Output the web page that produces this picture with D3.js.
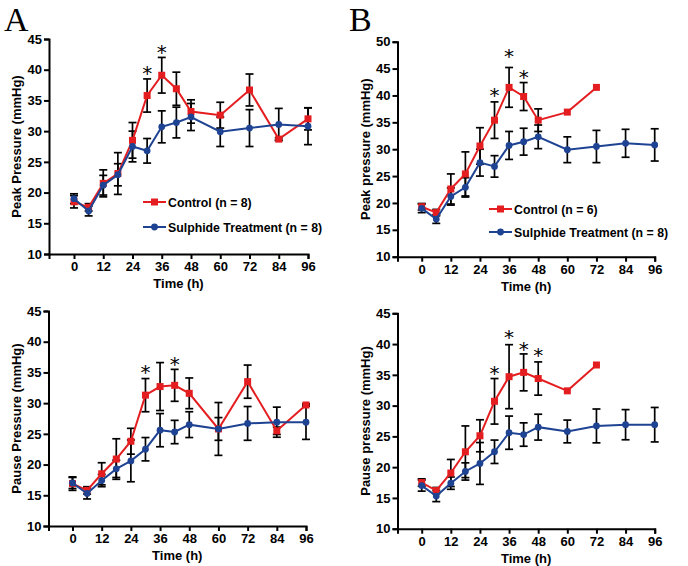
<!DOCTYPE html>
<html lang="en">
<head>
  <meta charset="UTF-8" />
  <title>Peak and pause pressure</title>
  <script src="https://cdn.jsdelivr.net/npm/d3@7"></script>
  <style>
    body { margin: 0; background: #fff; }
    text { font-family: "Liberation Sans", Arial, sans-serif; }
    .axis path, .axis line { stroke: #000; stroke-width: 2; }
    .axis text { font-size: 13px; font-weight: bold; fill: #000; }
  </style>
</head>
<body>
<script>
  // time points (h)
  var times = [0, 6, 12, 18, 24, 30, 36, 42, 48, 60, 72, 84, 96];
  var xTicks = [0, 12, 24, 36, 48, 60, 72, 84, 96];

  // A, peak pressure
  var controlPeakA = [18.5, 17.6, 21.5, 23.1, 28.5, 35.8, 39.1, 36.9, 33.2, 32.6, 36.7, 28.7, 32.0];
  var controlPeakAErr = [1.0, 0.6, 2.2, 3.4, 2.9, 2.7, 2.9, 2.7, 1.9, 2.1, 2.6, 0.2, 1.8];
  // B, peak pressure (control only to 72 h)
  var controlPeakB = [19.3, 18.2, 22.6, 25.4, 30.6, 35.4, 41.5, 39.8, 35.4, 36.9, 41.5];
  var controlPeakBErr = [0.6, 0.6, 2.8, 4.1, 3.4, 3.4, 3.7, 2.6, 2.1, 0, 0];
  // sulphide group, same in both panels
  var sulphidePeak = [19.0, 17.0, 21.2, 22.9, 27.5, 26.8, 30.7, 31.4, 32.3, 29.9, 30.5, 31.1, 30.8];
  var sulphidePeakErr = [0.8, 0.8, 1.6, 1.8, 2.5, 2.0, 2.6, 2.5, 2.2, 2.4, 3.0, 2.6, 3.0];

  // pause pressure
  var controlPauseA = [16.9, 15.8, 18.5, 20.9, 23.8, 31.3, 32.7, 32.9, 31.6, 25.8, 33.5, 25.5, 29.7];
  var controlPauseAErr = [1.1, 0.6, 1.8, 3.3, 2.1, 2.7, 3.9, 2.6, 2.5, 4.3, 2.7, 0.6, 0.2];
  var controlPauseB = [17.5, 16.2, 19.05, 22.5, 25.1, 30.7, 34.7, 35.4, 34.4, 32.4, 36.6];
  var controlPauseBErr = [0.6, 0.5, 2.2, 4.2, 2.6, 3.7, 5.2, 3.0, 2.7, 0, 0];
  var sulphidePause = [17.0, 15.3, 17.4, 19.3, 20.6, 22.5, 25.6, 25.3, 26.5, 25.8, 26.7, 26.9, 26.9];
  var sulphidePauseErr = [0.9, 0.9, 1.0, 1.4, 3.4, 1.9, 2.7, 1.9, 2.1, 1.85, 2.75, 2.45, 2.8];

  // significance stars: [time, level]
  var starsPeakA = [[30, 40.1], [36, 43.6]];
  var starsPeakB = [[30, 40.8], [36, 48.0], [42, 44.1]];
  var starsPauseA = [[30, 35.7], [42, 37.0]];
  var starsPauseB = [[30, 35.9], [36, 41.8], [42, 39.9], [48, 38.9]];

  var red = "#e41e20",
    blue = "#1f4393";

  var svg = d3.select("body").append("svg")
    .attr("width", 688)
    .attr("height", 566);

  var panels = [
    { left: 49, zero: 74, end: 308, top: 39, bottom: 254, ymax: 45,
      ylabel: "Peak Pressure (mmHg)", ctrl: controlPeakA, ctrlErr: controlPeakAErr,
      sul: sulphidePeak, sulErr: sulphidePeakErr, stars: starsPeakA,
      letter: "A", lx: 4, legend: { x: 143, y: 202, gap: 25, n: 8 } },
    { left: 397.5, zero: 421.7, end: 654.7, top: 41.7, bottom: 256.7, ymax: 50,
      ylabel: "Peak pressure (mmHg)", ctrl: controlPeakB, ctrlErr: controlPeakBErr,
      sul: sulphidePeak, sulErr: sulphidePeakErr, stars: starsPeakB,
      letter: "B", lx: 349, legend: { x: 489, y: 209, gap: 23, n: 6 } },
    { left: 48.5, zero: 72.5, end: 306, top: 311, bottom: 526, ymax: 45,
      ylabel: "Pause Pressure (mmHg)", ctrl: controlPauseA, ctrlErr: controlPauseAErr,
      sul: sulphidePause, sulErr: sulphidePauseErr, stars: starsPauseA },
    { left: 397.5, zero: 421.7, end: 654.7, top: 313.3, bottom: 528.7, ymax: 45,
      ylabel: "Pause pressure (mmHg)", ctrl: controlPauseB, ctrlErr: controlPauseBErr,
      sul: sulphidePause, sulErr: sulphidePauseErr, stars: starsPauseB }
  ];

  panels.forEach(function(p) {
    var g = svg.append("g");

    var base = d3.scaleLinear().domain([0, 96]).range([p.zero, p.end]);
    // extend the domain so the x axis starts at the y axis
    var xScale = d3.scaleLinear()
      .domain([base.invert(p.left), 96])
      .range([p.left, p.end]);

    var yScale = d3.scaleLinear()
      .domain([10, p.ymax])
      .range([p.bottom, p.top]);

    var xAxis = d3.axisBottom(xScale)
      .tickValues(xTicks)
      .tickSizeOuter(0)
      .tickSize(5)
      .tickPadding(3);

    var yAxis = d3.axisLeft(yScale)
      .tickValues(d3.range(10, p.ymax + 1, 5))
      .tickSizeOuter(0)
      .tickSize(5)
      .tickPadding(2);

    g.append("g")
      .attr("class", "axis")
      .attr("transform", "translate(0," + p.bottom + ")")
      .call(xAxis);

    g.append("g")
      .attr("class", "axis")
      .attr("transform", "translate(" + p.left + ",0)")
      .call(yAxis);

    g.append("text")
      .attr("x", (p.left + p.end) / 2)
      .attr("y", p.bottom + 34)
      .attr("text-anchor", "middle")
      .attr("font-size", 13)
      .attr("font-weight", "bold")
      .text("Time (h)");

    g.append("text")
      .attr("transform", "translate(" + (p.left - 28) + "," + ((p.top + p.bottom) / 2) + ") rotate(-90)")
      .attr("text-anchor", "middle")
      .attr("font-size", 13)
      .attr("font-weight", "bold")
      .text(p.ylabel);

    if (p.letter) {
      svg.append("text")
        .attr("x", p.lx)
        .attr("y", 31)
        .style("font-family", "'Liberation Serif', 'Times New Roman', serif")
        .attr("font-size", 34)
        .text(p.letter);
    }

    var series = [
      { vals: p.ctrl, err: p.ctrlErr, color: red, shape: "square" },
      { vals: p.sul, err: p.sulErr, color: blue, shape: "circle" }
    ];

    // error bars first
    series.forEach(function(s) {
      var pts = s.vals.map(function(v, i) { return { t: times[i], v: v, e: s.err[i] }; })
        .filter(function(d) { return d.e > 0; });
      var eb = g.append("g").attr("stroke", "#000").attr("stroke-width", 1.7).attr("fill", "none");
      eb.selectAll("line.v").data(pts).enter().append("line")
        .attr("x1", function(d) { return xScale(d.t); })
        .attr("x2", function(d) { return xScale(d.t); })
        .attr("y1", function(d) { return yScale(d.v + d.e); })
        .attr("y2", function(d) { return yScale(d.v - d.e); });
      [1, -1].forEach(function(sign) {
        eb.selectAll("line.c" + sign).data(pts).enter().append("line")
          .attr("x1", function(d) { return xScale(d.t) - 4; })
          .attr("x2", function(d) { return xScale(d.t) + 4; })
          .attr("y1", function(d) { return yScale(d.v + sign * d.e); })
          .attr("y2", function(d) { return yScale(d.v + sign * d.e); });
      });
    });

    series.forEach(function(s) {
      var pts = s.vals.map(function(v, i) { return { t: times[i], v: v }; });
      var line = d3.line()
        .x(function(d) { return xScale(d.t); })
        .y(function(d) { return yScale(d.v); });

      g.append("path")
        .datum(pts)
        .attr("fill", "none")
        .attr("stroke", s.color)
        .attr("stroke-width", 2)
        .attr("d", line);

      if (s.shape == "square") {
        g.selectAll(null).data(pts).enter().append("rect")
          .attr("x", function(d) { return xScale(d.t) - 3.5; })
          .attr("y", function(d) { return yScale(d.v) - 3.5; })
          .attr("width", 7)
          .attr("height", 7)
          .attr("fill", s.color);
      } else {
        g.selectAll(null).data(pts).enter().append("circle")
          .attr("cx", function(d) { return xScale(d.t); })
          .attr("cy", function(d) { return yScale(d.v); })
          .attr("r", 3.4)
          .attr("fill", s.color);
      }
    });

    // asterisks, centred on the level
    g.selectAll(null).data(p.stars).enter().append("text")
      .attr("x", function(d) { return xScale(d[0]); })
      .attr("y", function(d) { return yScale(d[1]) + 11; })
      .attr("text-anchor", "middle")
      .style("font-family", "'DejaVu Sans', sans-serif")
      .attr("font-size", 20)
      .text("*");

    if (p.legend) {
      var L = p.legend;
      var items = [
        { label: "Control (n = " + L.n + ")", color: red, shape: "square" },
        { label: "Sulphide Treatment (n = 8)", color: blue, shape: "circle" }
      ];
      items.forEach(function(it, i) {
        var y = L.y + i * L.gap;
        g.append("line")
          .attr("x1", L.x).attr("x2", L.x + 23)
          .attr("y1", y).attr("y2", y)
          .attr("stroke", it.color).attr("stroke-width", 2);
        if (it.shape == "square") {
          g.append("rect").attr("x", L.x + 8).attr("y", y - 3.5)
            .attr("width", 7).attr("height", 7).attr("fill", it.color);
        } else {
          g.append("circle").attr("cx", L.x + 11.5).attr("cy", y)
            .attr("r", 3.4).attr("fill", it.color);
        }
        g.append("text")
          .attr("x", L.x + 25)
          .attr("y", y + 4.5)
          .attr("font-size", 12.3)
          .attr("font-weight", "bold")
          .text(it.label);
      });
    }
  });
</script>
</body>
</html>
